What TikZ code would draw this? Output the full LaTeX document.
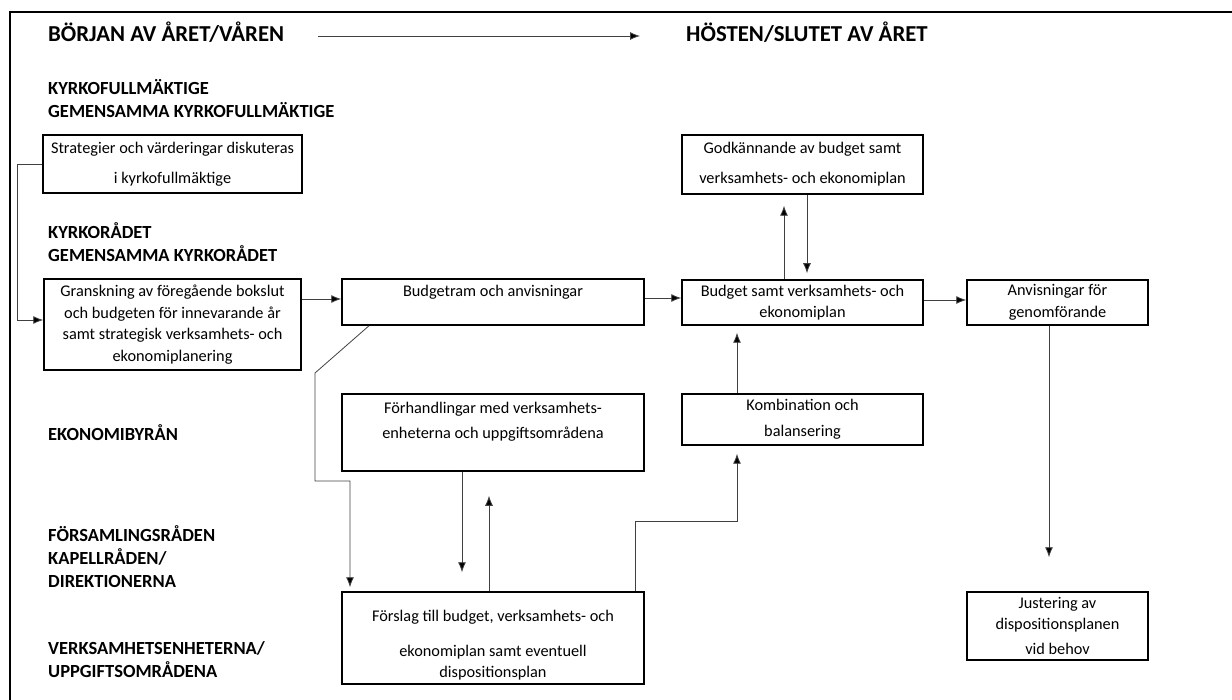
\documentclass[tikz,border=0pt]{standalone}
\usepackage{fontspec}
\setmainfont{Carlito}
\usetikzlibrary{positioning}
\usetikzlibrary{arrows.meta}
\usetikzlibrary{calc}
\tikzset{
  box/.style={draw=black, line width=1.5pt, rectangle, align=center, inner sep=0pt,
    font=\fontsize{16.3}{21.5}\selectfont},
  rowlabel/.style={anchor=west, align=left, inner sep=0pt,
    font=\bfseries\fontsize{18.5}{23}\selectfont},
  heading/.style={anchor=west, inner sep=0pt, font=\bfseries\fontsize{22.8}{25}\selectfont},
  conn/.style={draw=black!75, line width=0.8pt, -{Latex[length=10pt,width=8pt,fill=black]}},
}

\begin{document}
\begin{tikzpicture}[x=1pt,y=-1pt]
  \useasboundingbox (0,0) rectangle (1232,700);
  \draw[line width=2pt] (9.5,700) -- (9.5,12) -- (1232,12);

  \node[heading] (hstart) at (48,32) {BÖRJAN AV ÅRET/VÅREN};
  \node[heading] (hend) at (686,32) {HÖSTEN/SLUTET AV ÅRET};
  \coordinate (tstart) at (318,36);
  \coordinate (tend) at (640,36);
  \draw[conn] (tstart) -- (tend);

  \node[rowlabel] (kf) at (48,99) {KYRKOFULLMÄKTIGE\\GEMENSAMMA KYRKOFULLMÄKTIGE};
  \node[rowlabel] (kr) at (48,242) {KYRKORÅDET\\GEMENSAMMA KYRKORÅDET};
  \node[rowlabel] (eb) at (48,433) {EKONOMIBYRÅN};
  \node[rowlabel] (fr) at (48,557) {FÖRSAMLINGSRÅDEN\\KAPELLRÅDEN/\\DIREKTIONERNA};
  \node[rowlabel] (ve) at (48,660) {VERKSAMHETSENHETERNA/\\UPPGIFTSOMRÅDENA};

  \node[box, minimum width=259pt, minimum height=58pt] (strat) at (172.5,164)
    {Strategier och värderingar diskuteras\\[8.5pt] i kyrkofullmäktige};
  \node[box, minimum width=257pt, minimum height=91pt] (gransk) at (172.5,324.5)
    {Granskning av föregående bokslut\\ och budgeten för innevarande år\\ samt strategisk verksamhets- och\\ ekonomiplanering};
  \node[box, minimum width=302pt, minimum height=46pt] (bram) at (493,302)
    {Budgetram och anvisningar\\ \mbox{}};
  \node[box, minimum width=302pt, minimum height=77pt] (forh) at (493,432.5)
    {Förhandlingar med verksamhets-\\[3.5pt] enheterna och uppgiftsområdena\\[3.5pt] \mbox{}};
  \node[box, minimum width=302pt, minimum height=92pt] (forsl) at (493,638)
    {\rule{0pt}{26pt}Förslag till budget, verksamhets- och\\[13.5pt] ekonomiplan samt eventuell\\ dispositionsplan};
  \node[box, minimum width=241pt, minimum height=59pt] (godk) at (802.5,164.5)
    {Godkännande av budget samt\\[8.5pt] verksamhets- och ekonomiplan};
  \node[box, minimum width=241pt, minimum height=45pt] (bsamt) at (802.5,302.5)
    {Budget samt verksamhets- och\\ ekonomiplan};
  \node[box, minimum width=181pt, minimum height=45pt] (anvis) at (1057.5,302.5)
    {Anvisningar för\\ genomförande};
  \node[box, minimum width=241pt, minimum height=51pt] (komb) at (802.5,419.5)
    {Kombination och\\[4.5pt] balansering};
  \node[box, minimum width=181pt, minimum height=68pt] (just) at (1057.5,626)
    {Justering av\\ dispositionsplanen\\[3.5pt] vid behov};

  \draw[conn] (strat.west) -- ++(-25,0) |- ([yshift=4.5pt]gransk.west);
  \draw[conn] ([yshift=25.5pt]gransk.east) -- ([yshift=25.5pt]gransk.east -| bram.west);
  \draw[conn] ([yshift=4pt]bram.east) -- ([yshift=4pt]bram.east -| bsamt.west);
  \draw[conn] ([yshift=2.5pt]bsamt.east) -- ([yshift=2.5pt]bsamt.east -| anvis.west);
  \draw[conn, shorten >=11pt] ([xshift=-18.5pt]bsamt.north) -- ([xshift=-18.5pt]godk.south);
  \draw[conn, shorten >=6pt] ([xshift=4.5pt]godk.south) -- ([xshift=4.5pt]bsamt.north);
  \draw[conn, shorten >=7pt] ([xshift=-65.5pt]komb.north) -- ([xshift=-65.5pt]bsamt.south);
  \draw[conn, shorten >=8pt] ([xshift=142pt]forsl.north) -- ++(0,-70) -| ([xshift=-65.5pt]komb.south);
  \draw[conn, shorten >=19pt] ([xshift=-31pt]forh.south) -- ([xshift=-31pt]forsl.north);
  \draw[conn, shorten >=24pt] ([xshift=-4pt]forsl.north) -- ([xshift=-4pt]forh.south);
  \draw[conn, shorten >=4pt] ([xshift=-124pt]bram.south) -- (315,373) -- (315,481) -| ([xshift=-143pt]forsl.north);
  \draw[conn, shorten >=34pt] ([xshift=-8.5pt]anvis.south) -- ([xshift=-8.5pt]just.north);
\end{tikzpicture}
\end{document}
